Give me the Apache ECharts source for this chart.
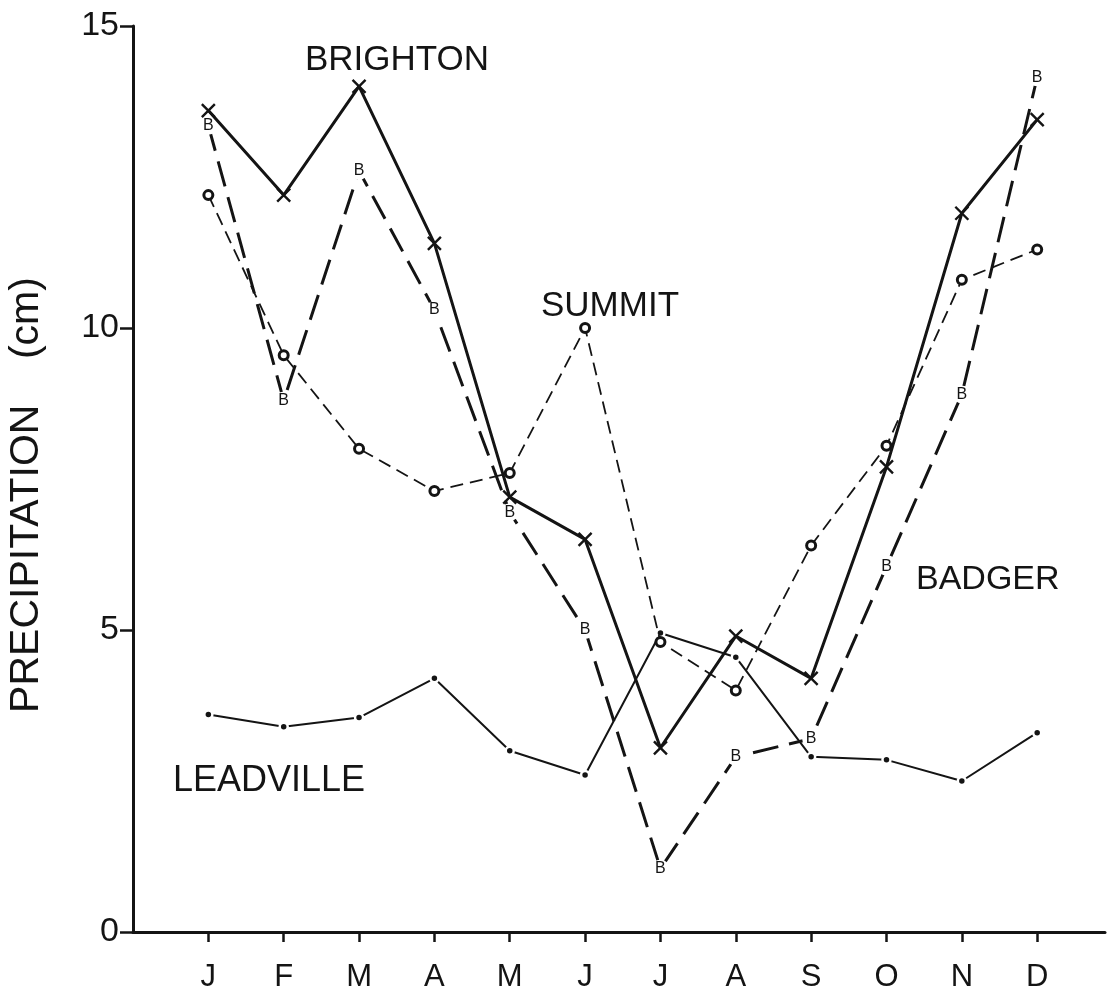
<!DOCTYPE html>
<html>
<head>
<meta charset="utf-8">
<title>Monthly precipitation</title>
<script src="https://cdn.jsdelivr.net/npm/echarts@6/dist/echarts.min.js"></script>
<style>
  html, body { margin: 0; padding: 0; background: #fff; }
  #chart { width: 1107px; height: 997px; }
</style>
</head>
<body>
<div id="chart"></div>
<script>
// Month initials along the bottom axis
const months = ['J', 'F', 'M', 'A', 'M', 'J', 'J', 'A', 'S', 'O', 'N', 'D'];
// Y tick values (cm)
const yTicks = [0, 5, 10, 15];

// Monthly precipitation (cm) for each station
const brighton  = [13.6, 12.2, 14.0, 11.4, 7.2, 6.5, 3.05, 4.9, 4.2, 7.7, 11.9, 13.45];
const badger    = [13.35, 8.8, 12.6, 10.3, 6.95, 5.0, 1.05, 2.9, 3.2, 6.05, 8.9, 14.15];
const summit    = [12.2, 9.55, 8.0, 7.3, 7.6, 10.0, 4.8, 4.0, 6.4, 8.05, 10.8, 11.3];
const leadville = [3.6, 3.4, 3.55, 4.2, 3.0, 2.6, 4.95, 4.55, 2.9, 2.85, 2.5, 3.3];

const INK = '#141414';
const FONT = '"Liberation Sans", Arial, sans-serif';

const pairs = vals => vals.map((v, i) => [i, v]);
const monthIdx = months.map((m, i) => i);

const chart = echarts.init(document.getElementById('chart'), null, { renderer: 'canvas' });

chart.setOption({
  animation: false,
  backgroundColor: '#fff',
  grid: { left: 133, right: 2, top: 26, bottom: 65, containLabel: false },
  xAxis: {
    type: 'value',
    min: -1,
    max: 11.9,
    splitLine: { show: false },
    axisLine: { show: true, onZero: false, lineStyle: { color: INK, width: 3 } },
    axisTick: { show: true, customValues: monthIdx, length: 10, lineStyle: { color: INK, width: 2.5 } },
    axisLabel: {
      show: true,
      customValues: monthIdx,
      formatter: v => months[Math.round(v)] || '',
      margin: 30,
      color: INK,
      fontFamily: FONT,
      fontSize: 31
    }
  },
  yAxis: {
    type: 'value',
    min: 0,
    max: 15,
    interval: 5,
    splitLine: { show: false },
    axisLine: { show: true, onZero: false, lineStyle: { color: INK, width: 3 } },
    axisTick: { show: true, length: 13, lineStyle: { color: INK, width: 2.5 } },
    axisLabel: {
      show: true,
      customValues: yTicks,
      margin: 14,
      color: INK,
      fontFamily: FONT,
      fontSize: 34
    }
  },
  graphic: [
    {
      type: 'text', x: 27, y: 495, rotation: Math.PI / 2,
      style: {
        text: 'PRECIPITATION    (cm)', fill: INK, font: '41px ' + FONT,
        textAlign: 'center', textVerticalAlign: 'middle'
      }
    },
    { type: 'text', x: 305, y: 60, style: { text: 'BRIGHTON', fill: INK, font: '35px ' + FONT, textAlign: 'left', textVerticalAlign: 'middle' } },
    { type: 'text', x: 541, y: 306, style: { text: 'SUMMIT', fill: INK, font: '35px ' + FONT, textAlign: 'left', textVerticalAlign: 'middle' } },
    { type: 'text', x: 916, y: 580, style: { text: 'BADGER', fill: INK, font: '34px ' + FONT, textAlign: 'left', textVerticalAlign: 'middle' } },
    { type: 'text', x: 173, y: 781, style: { text: 'LEADVILLE', fill: INK, font: '36px ' + FONT, textAlign: 'left', textVerticalAlign: 'middle' } }
  ],
  series: [
    {
      name: 'Leadville',
      type: 'line',
      data: pairs(leadville),
      lineStyle: { color: INK, width: 2 },
      symbol: 'circle',
      symbolSize: 8,
      itemStyle: { color: INK, borderColor: '#fff', borderWidth: 2.5 },
      z: 2
    },
    {
      name: 'Summit',
      type: 'line',
      data: pairs(summit),
      lineStyle: { color: INK, width: 1.8, type: [13, 7] },
      symbol: 'circle',
      symbolSize: 9,
      itemStyle: { color: '#fff', borderColor: INK, borderWidth: 3 },
      z: 3
    },
    {
      name: 'Badger',
      type: 'line',
      data: pairs(badger),
      lineStyle: { color: INK, width: 3, type: [26, 11] },
      symbol: 'circle',
      symbolSize: 18,
      itemStyle: { color: '#fff', borderWidth: 0 },
      label: {
        show: true, position: 'inside', formatter: 'B',
        color: INK, fontFamily: FONT, fontSize: 16
      },
      z: 4
    },
    {
      name: 'Brighton',
      type: 'line',
      data: pairs(brighton),
      lineStyle: { color: INK, width: 3 },
      symbol: 'path://M0,0L10,10M10,0L0,10',
      symbolSize: 13,
      itemStyle: { color: 'none', borderColor: INK, borderWidth: 2.4 },
      z: 5
    }
  ]
});
</script>
</body>
</html>
